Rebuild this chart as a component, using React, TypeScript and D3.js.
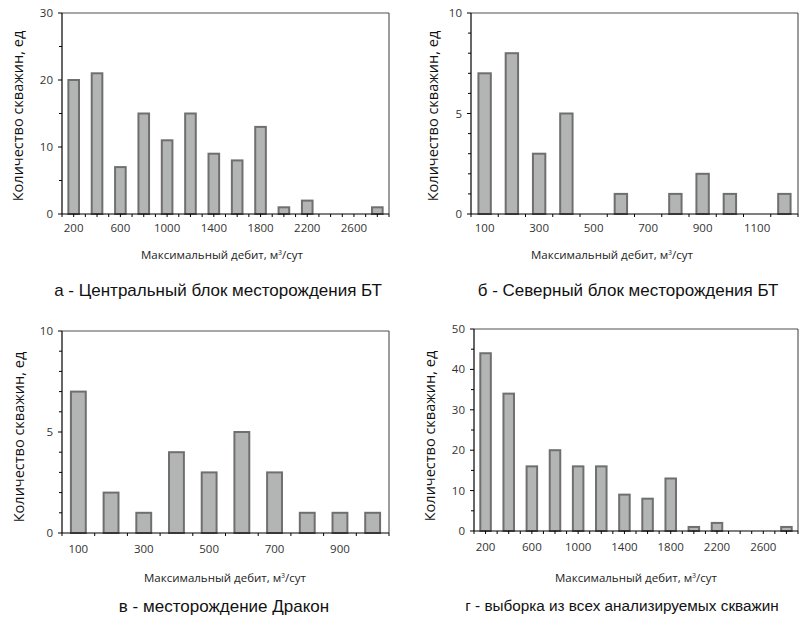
import React from "react";
import * as d3 from "d3";

// ---------- DATA ----------
const catsA = [200, 400, 600, 800, 1000, 1200, 1400, 1600, 1800, 2000, 2200, 2400, 2600, 2800];
const valsA = [20, 21, 7, 15, 11, 15, 9, 8, 13, 1, 2, 0, 0, 1];
const catsB = [100, 200, 300, 400, 500, 600, 700, 800, 900, 1000, 1100, 1200];
const valsB = [7, 8, 3, 5, 0, 1, 0, 1, 2, 1, 0, 1];
const catsC = [100, 200, 300, 400, 500, 600, 700, 800, 900, 1000];
const valsC = [7, 2, 1, 4, 3, 5, 3, 1, 1, 1];
const catsD = [200, 400, 600, 800, 1000, 1200, 1400, 1600, 1800, 2000, 2200, 2400, 2600, 2800];
const valsD = [44, 34, 16, 20, 16, 16, 9, 8, 13, 1, 2, 0, 0, 1];

const yTicksA = [0, 10, 20, 30];
const yTicksB = [0, 5, 10];
const yTicksC = [0, 5, 10];
const yTicksD = [0, 10, 20, 30, 40, 50];

const yTitle = "Количество скважин, ед";
const xTitle = "Максимальный дебит, м";
const captions = [
  "а - Центральный блок месторождения БТ",
  "б - Северный блок месторождения БТ",
  "в - месторождение Дракон",
  "г - выборка из всех анализируемых скважин",
];

// ---------- LAYOUT ----------
type PanelCfg = {
  cats: number[];
  vals: number[];
  yTicks: number[];
  minorStep: number;
  halfTicks: boolean;
  x0: number; x1: number; y0: number; y1: number;
  yTitleX: number; yTitleY: number;
  xTitleX: number; xTitleY: number;
  capX: number; capY: number; capSize: number;
  caption: string;
  labelDy: number;
};

const panels: PanelCfg[] = [
  { cats: catsA, vals: valsA, yTicks: yTicksA, minorStep: 5, halfTicks: true,
    x0: 62, x1: 389, y0: 13, y1: 214, yTitleX: 18, yTitleY: 116,
    xTitleX: 222, xTitleY: 255, capX: 218, capY: 290, capSize: 17, caption: captions[0], labelDy: 14 },
  { cats: catsB, vals: valsB, yTicks: yTicksB, minorStep: 1, halfTicks: false,
    x0: 471, x1: 798, y0: 13, y1: 214, yTitleX: 433, yTitleY: 116,
    xTitleX: 612, xTitleY: 255, capX: 628, capY: 290, capSize: 17, caption: captions[1], labelDy: 14 },
  { cats: catsC, vals: valsC, yTicks: yTicksC, minorStep: 1, halfTicks: false,
    x0: 62, x1: 389, y0: 331, y1: 533, yTitleX: 19, yTitleY: 437,
    xTitleX: 225, xTitleY: 578, capX: 224, capY: 606, capSize: 17, caption: captions[2], labelDy: 16 },
  { cats: catsD, vals: valsD, yTicks: yTicksD, minorStep: 5, halfTicks: true,
    x0: 474, x1: 798, y0: 329, y1: 531, yTitleX: 430, yTitleY: 436,
    xTitleX: 636, xTitleY: 578, capX: 622, capY: 606, capSize: 15.3, caption: captions[3], labelDy: 16 },
];

const tickFont = "'Open Sans', sans-serif";
const capFont = "'Liberation Sans', Arial, sans-serif";

function Panel({ p }: { p: PanelCfg }) {
  const x = d3.scaleBand<number>().domain(p.cats).range([p.x0, p.x1]).paddingInner(0).paddingOuter(0);
  const yMax = p.yTicks[p.yTicks.length - 1];
  const y = d3.scaleLinear().domain([0, yMax]).range([p.y1, p.y0]);
  const bw = x.bandwidth();
  const barW = bw / 2.2;
  const minor = d3.range(0, yMax + 0.001, p.minorStep).filter((v) => !p.yTicks.includes(v));
  const xTickPos: number[] = [];
  p.cats.forEach((c, i) => {
    const s = x(c)!;
    xTickPos.push(s);
    if (p.halfTicks) xTickPos.push(s + bw / 2);
    if (i === p.cats.length - 1) xTickPos.push(s + bw);
  });
  return (
    <g>
      {/* frame */}
      <line x1={p.x0} x2={p.x1} y1={p.y0} y2={p.y0} stroke="#8a8a8a" strokeWidth={1.5} />
      <line x1={p.x1} x2={p.x1} y1={p.y0} y2={p.y1} stroke="#3a3a3a" strokeWidth={1} />
      {/* bars */}
      {p.cats.map((c, i) =>
        p.vals[i] > 0 ? (
          <rect key={c}
            x={x(c)! + bw / 2 - barW / 2}
            y={y(p.vals[i])}
            width={barW}
            height={p.y1 - y(p.vals[i])}
            fill="#b3b5b5" stroke="#6f6f6f" strokeWidth={2} />
        ) : null
      )}
      {/* y axis */}
      <line x1={p.x0} x2={p.x0} y1={p.y0} y2={p.y1} stroke="#000" strokeWidth={1.2} />
      {p.yTicks.map((t) => (
        <g key={"y" + t}>
          <line x1={p.x0 - 4} x2={p.x0} y1={y(t)} y2={y(t)} stroke="#000" />
          <text x={p.x0 - 9} y={y(t)} dy="0.35em" textAnchor="end" fontSize={11.5}
            fontFamily={tickFont} fill="#333">{t}</text>
        </g>
      ))}
      {minor.map((t) => (
        <line key={"m" + t} x1={p.x0 - 3} x2={p.x0} y1={y(t)} y2={y(t)} stroke="#000" />
      ))}
      {/* x axis */}
      <line x1={p.x0} x2={p.x1} y1={p.y1} y2={p.y1} stroke="#000" strokeWidth={1.2} />
      {xTickPos.map((xp, i) => (
        <line key={"xt" + i} x1={xp} x2={xp} y1={p.y1} y2={p.y1 + 3} stroke="#000" />
      ))}
      {p.cats.map((c, i) =>
        i % 2 === 0 ? (
          <text key={"xl" + c} x={x(c)! + bw / 2} y={p.y1 + p.labelDy} dy="0.35em"
            textAnchor="middle" fontSize={11.5} fontFamily={tickFont} fill="#333">{c}</text>
        ) : null
      )}
      {/* titles */}
      <text transform={`translate(${p.yTitleX},${p.yTitleY}) rotate(-90)`} textAnchor="middle"
        dy="0.35em" fontSize={14.5} fontFamily={tickFont} fill="#111">{yTitle}</text>
      <text x={p.xTitleX} y={p.xTitleY} dy="0.35em" textAnchor="middle" fontSize={11.5}
        fontFamily={tickFont} fill="#222">
        {xTitle}
        <tspan fontSize={7} dy={-4}>3</tspan>
        <tspan dy={4}>/сут</tspan>
      </text>
      <text x={p.capX} y={p.capY} dy="0.35em" textAnchor="middle" fontSize={p.capSize}
        fontFamily={capFont} fill="#111">
        {p.caption}
      </text>
    </g>
  );
}

export default function App() {
  return (
    <svg width={799} height={617} style={{ position: "absolute", left: 0, top: 0, background: "#fff" }}>
      <rect width={799} height={617} fill="#fff" />
      {panels.map((p, i) => (
        <Panel key={i} p={p} />
      ))}
    </svg>
  );
}
